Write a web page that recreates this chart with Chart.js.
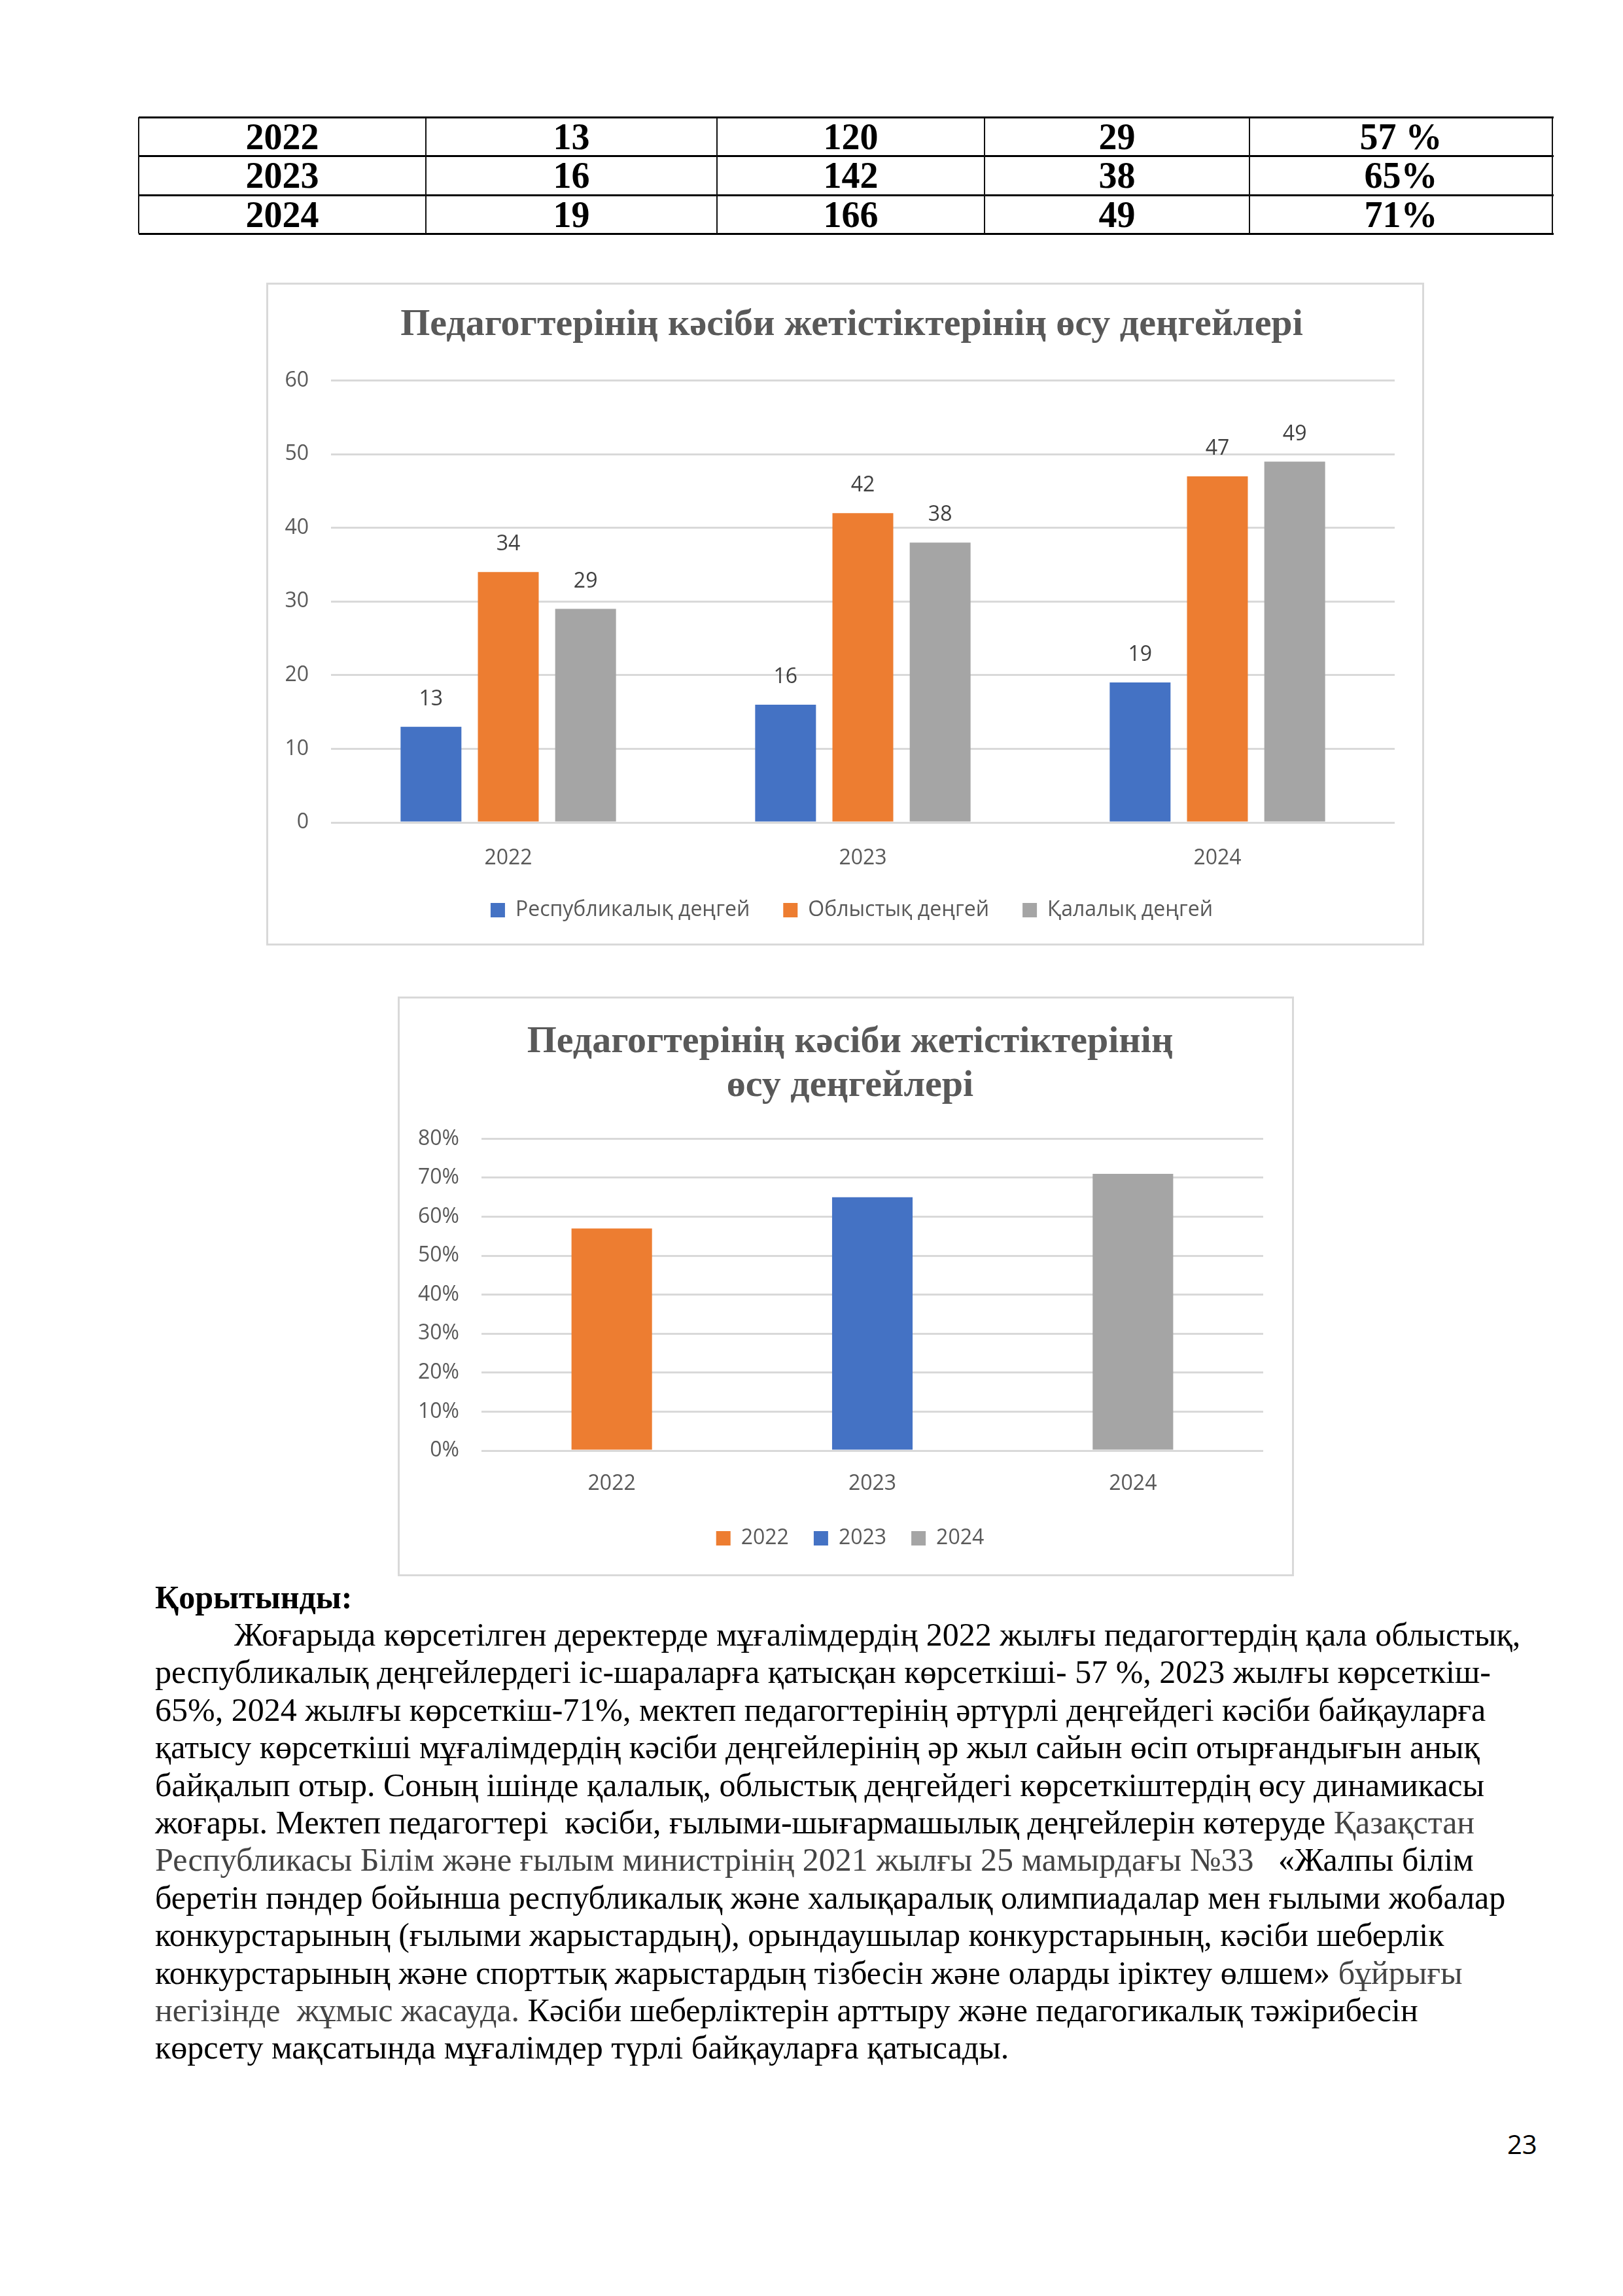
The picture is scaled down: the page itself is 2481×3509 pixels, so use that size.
<!DOCTYPE html>
<html><head><meta charset="utf-8">
<script src="https://cdn.jsdelivr.net/npm/chart.js@4.4.1/dist/chart.umd.min.js"></script>
<style>
html,body{margin:0;padding:0;background:#fff;}
#page{position:relative;width:2481px;height:3509px;overflow:hidden;background:#fff;}
.cell{position:absolute;display:flex;align-items:center;justify-content:center;font-family:'Liberation Serif','Times New Roman',serif;font-weight:bold;font-size:56px;line-height:1;color:#000;}
.hl{position:absolute;background:#000;height:3px;}
.vl{position:absolute;background:#111;width:2px;}
.frame{position:absolute;border:3px solid #d9d9d9;box-sizing:border-box;pointer-events:none;}
canvas{position:absolute;}
.line{position:absolute;white-space:pre;font-family:'Liberation Serif','Times New Roman',serif;font-size:50px;line-height:58px;color:#000;}
.g{color:#444;}
.pn{position:absolute;font-family:'Open Sans','Noto Sans',sans-serif;font-size:40px;line-height:40px;color:#000;}
</style></head>
<body><div id="page">
<canvas id="c1" width="1770" height="1013" style="left:407px;top:432px;"></canvas>
<div class="frame" style="left:407px;top:432px;width:1770px;height:1013px;"></div>
<canvas id="c2" width="1370" height="886" style="left:608px;top:1523px;"></canvas>
<div class="frame" style="left:608px;top:1523px;width:1370px;height:886px;"></div>

<div class="line" style="left:237px;top:2412px;font-weight:bold;">Қорытынды:</div>
<div class="line" style="left:358px;top:2469px;">Жоғарыда көрсетілген деректерде мұғалімдердің 2022 жылғы педагогтердің қала облыстық,</div>
<div class="line" style="left:237px;top:2526px;">республикалық деңгейлердегі іс-шараларға қатысқан көрсеткіші- 57 %, 2023 жылғы көрсеткіш-</div>
<div class="line" style="left:237px;top:2584px;">65%, 2024 жылғы көрсеткіш-71%, мектеп педагогтерінің әртүрлі деңгейдегі кәсіби байқауларға</div>
<div class="line" style="left:237px;top:2641px;">қатысу көрсеткіші мұғалімдердің кәсіби деңгейлерінің әр жыл сайын өсіп отырғандығын анық</div>
<div class="line" style="left:237px;top:2699px;">байқалып отыр. Соның ішінде қалалық, облыстық деңгейдегі көрсеткіштердің өсу динамикасы</div>
<div class="line" style="left:237px;top:2756px;">жоғары. Мектеп педагогтері  кәсіби, ғылыми-шығармашылық деңгейлерін көтеруде <span class="g">Қазақстан</span></div>
<div class="line" style="left:237px;top:2813px;"><span class="g">Республикасы Білім және ғылым министрінің 2021 жылғы 25 мамырдағы №33</span>   «Жалпы білім</div>
<div class="line" style="left:237px;top:2871px;">беретін пәндер бойынша республикалық және халықаралық олимпиадалар мен ғылыми жобалар</div>
<div class="line" style="left:237px;top:2928px;">конкурстарының (ғылыми жарыстардың), орындаушылар конкурстарының, кәсіби шеберлік</div>
<div class="line" style="left:237px;top:2986px;">конкурстарының және спорттық жарыстардың тізбесін және оларды іріктеу өлшем» <span class="g">бұйрығы</span></div>
<div class="line" style="left:237px;top:3043px;"><span class="g">негізінде  жұмыс жасауда.</span> Кәсіби шеберліктерін арттыру және педагогикалық тәжірибесін</div>
<div class="line" style="left:237px;top:3100px;">көрсету мақсатында мұғалімдер түрлі байқауларға қатысады.</div>
<div class="pn" style="left:2304px;top:3257px;">23</div>
</div>
<script>
// ---- data ----
const years = ['2022', '2023', '2024'];
const levelNames = ['Республикалық деңгей', 'Облыстық деңгей', 'Қалалық деңгей'];
const republicanLevel = [13, 16, 19];
const regionalLevel = [34, 42, 47];
const cityLevel = [29, 38, 49];
const growthPercent = [57, 65, 71];
const tableCol2 = ['13', '16', '19'];
const tableCol3 = ['120', '142', '166'];
const tableCol4 = ['29', '38', '49'];
const tableCol5 = ['57 %', '65%', '71%'];
const chartTitle = 'Педагогтерінің кәсіби жетістіктерінің өсу деңгейлері';
const chartTitle2 = ['Педагогтерінің кәсіби жетістіктерінің', 'өсу деңгейлері'];

// ---- table ----
const page = document.getElementById('page');
const colEdges = [212, 651, 1096, 1505, 1910, 2373];
const rowEdges = [179, 238, 298, 357];
const rows = years.map((y, i) => [y, tableCol2[i], tableCol3[i], tableCol4[i], tableCol5[i]]);
rows.forEach((r, ri) => r.forEach((t, ci) => {
  const d = document.createElement('div');
  d.className = 'cell';
  d.style.left = colEdges[ci] + 'px';
  d.style.top = rowEdges[ri] + 'px';
  d.style.width = (colEdges[ci + 1] - colEdges[ci]) + 'px';
  d.style.height = (rowEdges[ri + 1] - rowEdges[ri]) + 'px';
  d.textContent = t;
  page.appendChild(d);
}));
rowEdges.forEach(y => {
  const d = document.createElement('div'); d.className = 'hl';
  d.style.left = colEdges[0] + 'px'; d.style.top = (y - 1) + 'px';
  d.style.width = (colEdges[colEdges.length - 1] - colEdges[0] + 2) + 'px';
  page.appendChild(d);
});
colEdges.forEach(x => {
  const d = document.createElement('div'); d.className = 'vl';
  d.style.left = (x - 1) + 'px'; d.style.top = rowEdges[0] + 'px';
  d.style.height = (rowEdges[rowEdges.length - 1] - rowEdges[0]) + 'px';
  page.appendChild(d);
});

// ---- charts ----
const SANS = "'Open Sans','Noto Sans',sans-serif";
const SERIF = "'Liberation Serif','Times New Roman',serif";
Chart.defaults.font.family = SANS;
Chart.defaults.color = '#595959';
const FS = 32;

const valueLabels = {
  id: 'valueLabels',
  afterDatasetsDraw(chart, args, opts) {
    if (!opts || !opts.display) return;
    const ctx = chart.ctx;
    ctx.save();
    ctx.font = opts.size + 'px ' + SANS;
    ctx.fillStyle = opts.color;
    ctx.textAlign = 'center';
    ctx.textBaseline = 'middle';
    chart.data.datasets.forEach((ds, i) => {
      const meta = chart.getDatasetMeta(i);
      meta.data.forEach((bar, j) => ctx.fillText(String(ds.data[j]), bar.x, bar.y - opts.offset));
    });
    ctx.restore();
  }
};

const colBlue = '#4472C4', colOrange = '#ED7D31', colGray = '#A5A5A5';
const spacerAxis = w => ({ type: 'linear', position: 'right', display: true,
  ticks: { display: false }, grid: { display: false, drawTicks: false }, border: { display: false },
  afterFit: s => { s.width = w; } });

new Chart(document.getElementById('c1'), {
  type: 'bar',
  data: {
    labels: years,
    datasets: [
      { label: levelNames[0], data: republicanLevel, backgroundColor: colBlue },
      { label: levelNames[1], data: regionalLevel, backgroundColor: colOrange },
      { label: levelNames[2], data: cityLevel, backgroundColor: colGray }
    ]
  },
  options: {
    responsive: false, animation: false,
    datasets: { bar: { categoryPercentage: 0.654, barPercentage: 0.787 } },
    layout: { padding: { left: 20, right: 0, top: 0, bottom: 28 } },
    plugins: {
      title: { display: true, text: chartTitle, color: '#595959',
        font: { family: SERIF, size: 58, weight: 'bold', lineHeight: 1.2 },
        padding: { top: 30, bottom: 50 } },
      legend: { position: 'bottom', onClick: null,
        labels: { boxWidth: 22, boxHeight: 22, padding: 51, color: '#595959', font: { size: FS } } },
      tooltip: { enabled: false },
      valueLabels: { display: true, offset: 42, color: '#404040', size: FS }
    },
    scales: {
      x: { grid: { display: false }, border: { display: false },
        ticks: { color: '#595959', font: { size: FS, lineHeight: 1 }, padding: 31 },
        afterFit: s => { s.height = 67; } },
      y: { min: 0, max: 60, border: { display: false },
        ticks: { stepSize: 10, color: '#595959', font: { size: FS }, padding: 34 },
        grid: { color: '#D9D9D9', lineWidth: 3, drawTicks: false },
        afterFit: s => { s.width = 79; } },
      yRight: spacerAxis(45)
    }
  },
  plugins: [valueLabels]
});

const colors2 = [colOrange, colBlue, colGray];
new Chart(document.getElementById('c2'), {
  type: 'bar',
  data: {
    labels: years,
    datasets: [{ label: 'pct', data: growthPercent, backgroundColor: colors2 }]
  },
  options: {
    responsive: false, animation: false,
    datasets: { bar: { categoryPercentage: 1, barPercentage: 0.309 } },
    layout: { padding: { left: 13, right: 0, top: 0, bottom: 32 } },
    plugins: {
      title: { display: true, text: chartTitle2, color: '#595959',
        font: { family: SERIF, size: 58, weight: 'bold', lineHeight: 1.15 },
        padding: { top: 37, bottom: 47 } },
      legend: { position: 'bottom', onClick: null,
        labels: { boxWidth: 22, boxHeight: 22, padding: 38, color: '#595959', font: { size: FS },
          generateLabels: chart => chart.data.labels.map((l, i) => ({
            text: l, fillStyle: colors2[i], strokeStyle: colors2[i], lineWidth: 0,
            hidden: false, index: i, fontColor: '#595959' })) } },
      tooltip: { enabled: false }
    },
    scales: {
      x: { grid: { display: false }, border: { display: false },
        ticks: { color: '#595959', font: { size: FS, lineHeight: 1 }, padding: 27 },
        afterFit: s => { s.height = 80; } },
      y: { min: 0, max: 80, border: { display: false },
        ticks: { stepSize: 10, color: '#595959', font: { size: FS }, padding: 34, callback: v => v + '%' },
        grid: { color: '#D9D9D9', lineWidth: 3, drawTicks: false },
        afterFit: s => { s.width = 115; } },
      yRight: spacerAxis(47)
    }
  }
});
</script>
</body></html>
